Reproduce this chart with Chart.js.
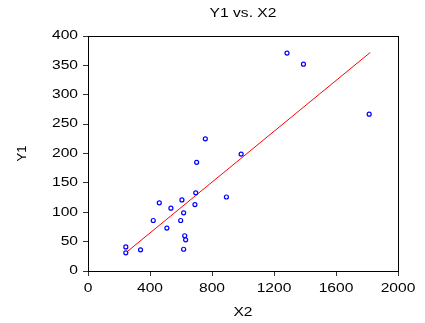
<!DOCTYPE html>
<html>
<head>
<meta charset="utf-8">
<script src="https://cdn.jsdelivr.net/npm/chart.js@4.4.1/dist/chart.umd.min.js"></script>
<style>
  html, body { margin: 0; padding: 0; background: #fff; }
</style>
</head>
<body>
<canvas id="graf" width="425" height="323"></canvas>
<script>
var x2 = [244, 244, 339, 421, 460, 509, 535, 598, 606, 617, 624, 630, 617, 690, 695, 701, 757, 893, 988, 1284, 1390, 1814];
var y1 = [41, 31, 36, 86, 116, 73, 107, 86, 121, 99, 60, 53, 37, 113, 133, 185, 225, 126, 199, 371, 352, 267];

// fitted line end points
var fitX = [244, 1821];
var fitY = [31, 372];

var xTicks = [0, 400, 800, 1200, 1600, 2000];
var yTicks = [0, 50, 100, 150, 200, 250, 300, 350, 400];

var puntos = [];
for (var i in x2){
    puntos.push({x: x2[i], y: y1[i]});
}
var recta = [];
for (var j in fitX){
    recta.push({x: fitX[j], y: fitY[j]});
}

var fuente = { family: "'Liberation Sans', Arial, sans-serif", size: 12 };

Chart.defaults.font.family = fuente.family;
Chart.defaults.color = "#000";

// the original picture has its text a bit wide, stretch it horizontally
var textoAncho = {
    id: "textoAncho",
    beforeDraw: function(chart){
        var ctx = chart.ctx;
        if (ctx._ancho) return;
        ctx._ancho = true;
        var orig = ctx.fillText;
        ctx.fillText = function(t, x, y, w){
            var m = ctx.getTransform();
            if (m.b !== 0 || m.c !== 0) return orig.call(ctx, t, x, y, w);
            ctx.save();
            ctx.translate(x, y);
            ctx.scale(1.3, 1);
            orig.call(ctx, t, 0, 0);
            ctx.restore();
        };
    }
};

var graf = document.getElementById("graf");
new Chart(graf, {
    type: "scatter",
    data: {
        datasets: [
        {
            data: puntos,
            pointStyle: "circle",
            pointRadius: 2,
            pointHoverRadius: 2,
            borderColor: "#0000ff",
            backgroundColor: "#ffffff",
            borderWidth: 1.2,
            order: 1
        },
        {
            type: "line",
            data: recta,
            borderColor: "#ff0000",
            borderWidth: 1,
            pointRadius: 0,
            fill: false,
            order: 2
        }
        ]
    },
    plugins: [textoAncho],
    options: {
        responsive: false,
        animation: false,
        devicePixelRatio: 1,
        layout: { padding: { left: 0, right: 27, top: 0, bottom: 0 } },
        plugins: {
            legend: { display: false },
            tooltip: { enabled: false },
            title: {
                display: true,
                fullSize: false,
                text: "Y1 vs. X2",
                font: { size: 12, weight: "normal" },
                color: "#000",
                padding: { top: 6, bottom: 15.6 }
            }
        },
        scales: {
            x: {
                type: "linear",
                position: "bottom",
                min: 0, max: 2000,
                afterBuildTicks: function(s){ s.ticks = xTicks.map(function(v){ return {value: v}; }); },
                afterFit: function(s){ s.height = 52; },
                ticks: { font: fuente, color: "#000", padding: 5, maxRotation: 0, autoSkip: false,
                         callback: function(v){ return String(v); } },
                grid: { drawOnChartArea: false, drawTicks: true, tickLength: 5, color: "#333" },
                border: { display: true, color: "#000", width: 1 },
                title: { display: true, text: "X2", font: fuente, color: "#000", padding: { top: 0, bottom: 3 } }
            },
            y: {
                type: "linear",
                position: "left",
                min: 0, max: 400,
                afterBuildTicks: function(s){ s.ticks = yTicks.map(function(v){ return {value: v}; }); },
                afterFit: function(s){ s.width = 88; },
                ticks: { font: fuente, color: "#000", padding: 5, autoSkip: false,
                         callback: function(v){ return String(v); } },
                grid: { drawOnChartArea: false, drawTicks: true, tickLength: 5, color: "#333" },
                border: { display: true, color: "#000", width: 1 },
                title: { display: true, text: "Y1", font: { family: fuente.family, size: 13 }, color: "#000", padding: { top: 15, bottom: 0 } }
            },
            xTop: {
                type: "linear",
                position: "top",
                min: 0, max: 2000,
                afterFit: function(s){ s.height = 0; },
                ticks: { display: false },
                grid: { display: false },
                border: { display: true, color: "#000", width: 1 }
            },
            yRight: {
                type: "linear",
                position: "right",
                min: 0, max: 400,
                afterFit: function(s){ s.width = 0; },
                ticks: { display: false },
                grid: { display: false },
                border: { display: true, color: "#000", width: 1 }
            }
        }
    }
});
</script>
</body>
</html>
